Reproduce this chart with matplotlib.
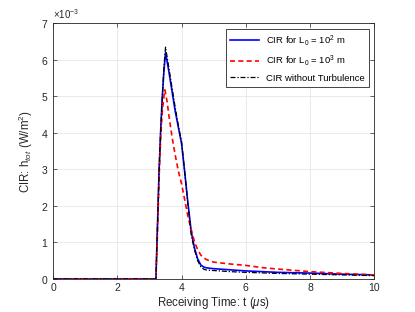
import matplotlib
matplotlib.use('Agg')
import matplotlib.pyplot as plt
from matplotlib.ticker import ScalarFormatter

plt.rcParams['font.family'] = ['Liberation Sans', 'DejaVu Sans']
plt.rcParams['mathtext.fontset'] = 'custom'
plt.rcParams['mathtext.rm'] = 'Liberation Sans'
plt.rcParams['mathtext.it'] = 'Liberation Sans:italic'

# time axis (microseconds)
t_blk = [0, 3.2, 3.25, 3.3, 3.35, 3.4, 3.45, 3.5, 3.6, 3.7, 3.8, 3.9, 4.0, 4.1, 4.2,
         4.3, 4.4, 4.5, 4.6, 4.7, 4.8, 5.0, 5.5, 6.0, 7.0, 8.0, 9.0, 10.0]
# CIR without turbulence
h_blk = [0, 0, 1.5e-3, 3.0e-3, 4.1e-3, 5.0e-3, 5.8e-3, 6.35e-3, 5.8e-3, 5.25e-3, 4.7e-3,
         4.2e-3, 3.75e-3, 2.9e-3, 2.0e-3, 1.2e-3, 0.8e-3, 0.5e-3, 0.33e-3, 0.26e-3,
         0.24e-3, 0.23e-3, 0.2e-3, 0.18e-3, 0.15e-3, 0.13e-3, 0.11e-3, 0.09e-3]
# CIR for L0 = 10^2 m
h_blue = [0, 0, 1.5e-3, 3.0e-3, 4.1e-3, 5.0e-3, 5.7e-3, 6.2e-3, 5.7e-3, 5.15e-3, 4.6e-3,
          4.15e-3, 3.7e-3, 2.9e-3, 2.05e-3, 1.3e-3, 0.85e-3, 0.55e-3, 0.38e-3, 0.32e-3,
          0.3e-3, 0.28e-3, 0.25e-3, 0.22e-3, 0.18e-3, 0.16e-3, 0.13e-3, 0.11e-3]

t_red = [0, 3.2, 3.25, 3.3, 3.35, 3.4, 3.45, 3.48, 3.55, 3.6, 3.7, 3.8, 3.9, 4.0, 4.1,
         4.2, 4.3, 4.4, 4.5, 4.6, 4.7, 4.8, 5.0, 5.5, 6.0, 6.5, 7.0, 8.0, 9.0, 10.0]
# CIR for L0 = 10^3 m
h_red = [0, 0, 1.3e-3, 2.8e-3, 3.9e-3, 4.6e-3, 5.0e-3, 5.18e-3, 4.85e-3, 4.5e-3, 3.9e-3,
         3.4e-3, 2.95e-3, 2.6e-3, 2.15e-3, 1.7e-3, 1.35e-3, 1.02e-3, 0.8e-3, 0.65e-3,
         0.57e-3, 0.52e-3, 0.46e-3, 0.41e-3, 0.37e-3, 0.31e-3, 0.27e-3, 0.2e-3, 0.15e-3,
         0.11e-3]

fig = plt.figure(figsize=(4.15, 3.12), dpi=100)
ax = fig.add_axes([0.128, 0.106, 0.774, 0.819])

ax.plot(t_blk, h_blue, color='#0000ff', lw=1.2, label='CIR for L$_0$ = 10$^2$ m')
ax.plot(t_red, h_red, color='#ff0000', lw=1.2, ls='--', dashes=(3, 2),
        label='CIR for L$_0$ = 10$^3$ m')
ax.plot(t_blk, h_blk, color='black', lw=0.9, ls='-.', dashes=(4, 1.5, 1, 1.5),
        label='CIR without Turbulence')

ax.set_xlim(0, 10)
ax.set_ylim(0, 7e-3)
ax.set_xticks([0, 2, 4, 6, 8, 10])
ax.set_yticks([i * 1e-3 for i in range(8)])
fmt = ScalarFormatter(useMathText=True)
fmt.set_powerlimits((-3, -3))
ax.yaxis.set_major_formatter(fmt)
ax.yaxis.get_offset_text().set_fontsize(7)

ax.grid(True, color='#e6e6e6', lw=0.6)
ax.set_axisbelow(True)
ax.tick_params(direction='in', top=True, right=True, labelsize=7.5,
               colors='#262626', length=3, width=0.5)
ax.tick_params(axis='x', pad=3)
for s in ax.spines.values():
    s.set_color('#262626')
    s.set_linewidth(0.6)

ax.set_xlabel('Receiving Time: t ($\\mu$s)', fontsize=8.3, color='#262626', labelpad=1.5)
ax.set_ylabel('CIR: h$_{tot}$ (W/m$^2$)', fontsize=8.3, color='#262626')

leg = ax.legend(loc='upper right', fontsize=6.8, fancybox=False, framealpha=1,
                edgecolor='#262626', borderaxespad=0.6, handlelength=3.0,
                labelspacing=0.6)
leg.get_frame().set_linewidth(0.6)

fig.savefig('out.png', dpi=100)
